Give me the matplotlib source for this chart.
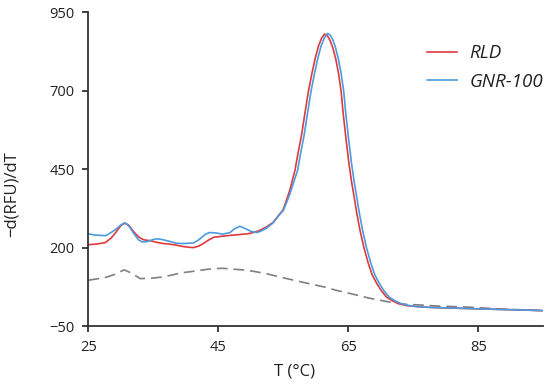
import matplotlib
matplotlib.use("Agg")
import matplotlib.pyplot as plt

plt.rcParams['font.family'] = ['Open Sans', 'DejaVu Sans']

# RLD (red)
rld_t = [25.0, 26.5, 27.6, 28.5, 29.2, 30.0, 30.6, 31.2, 32.0, 32.8, 33.5, 34.5, 35.5, 36.5,
         37.5, 38.5, 39.4, 40.5, 41.2, 42.0, 42.7, 43.5, 44.3, 45.5, 46.8, 48.0, 49.5, 50.4,
         51.3, 52.4, 53.4, 54.5, 55.0, 56.0, 56.8, 57.3, 57.8, 58.3, 58.85, 59.4, 59.9, 60.4,
         60.9, 61.35, 61.8, 62.2, 62.6, 63.05, 63.5, 63.9, 64.2, 64.6, 65.1, 65.5, 65.9, 66.3,
         66.8, 67.4, 68.1, 68.7, 69.4, 70.1, 70.9, 71.8, 72.8, 74.0, 76.0, 78.0, 83.0, 88.0,
         92.0, 95.0]
rld_v = [209, 212, 216, 230, 248, 270, 278, 272, 250, 233, 225, 222, 217, 213,
         211, 208, 204, 201, 200, 205, 213, 224, 233, 236, 239, 241, 244, 248,
         254, 266, 280, 308, 322, 383, 447, 505, 558, 625, 697, 755, 803, 842,
         868, 881, 875, 860, 838, 803, 755, 697, 630, 555, 468, 410, 361, 310,
         255, 200, 148, 112, 85, 62, 42, 30, 21, 15, 11, 9, 6, 3,
         1, -1]

# GNR-100 (blue)
gnr_t = [25.0, 26.0, 27.0, 27.7, 28.5, 29.2, 30.0, 30.6, 31.2, 32.0, 32.7, 33.3, 34.0, 35.0,
         35.6, 36.3, 37.5, 38.5, 39.4, 40.5, 41.2, 42.0, 43.0, 43.6, 44.5, 45.7, 46.8, 47.5,
         48.3, 49.0, 50.0, 50.9, 51.5, 52.4, 53.4, 54.5, 55.0, 56.0, 57.2, 57.7, 58.2, 58.7,
         59.25, 59.8, 60.3, 60.8, 61.3, 61.8, 62.2, 62.6, 63.0, 63.45, 63.9, 64.3, 64.6, 65.0,
         65.5, 65.9, 66.3, 66.7, 67.2, 67.8, 68.5, 69.1, 69.8, 70.5, 71.3, 72.2, 73.2, 74.4,
         76.0, 78.0, 83.0, 88.0, 92.0, 95.0]
gnr_v = [244, 240, 239, 238, 248, 258, 272, 279, 270, 245, 225, 218, 219, 226,
         228, 226, 220, 214, 213, 214, 215, 225, 242, 248, 247, 243, 248, 260,
         268, 262, 252, 248, 252, 262, 278, 308, 318, 370, 447, 505, 558, 625,
         697, 755, 803, 842, 868, 883, 878, 863, 840, 803, 755, 697, 630, 555,
         468, 410, 361, 310, 255, 200, 148, 112, 85, 62, 42, 30, 21, 15,
         11, 9, 6, 3, 1, -1]

# Baseline (grey dashed)
base_t = [25.0, 27.5, 29.0, 30.5, 31.5, 33.0, 35.0, 36.3, 38.0, 39.1, 41.0, 43.0, 44.3, 45.7,
          47.5, 49.3, 50.5, 52.4, 54.5, 57.9, 61.4, 63.1, 65.0, 68.2, 71.4, 73.3, 76.0, 78.5,
          83.6, 88.7, 95.0]
base_v = [96, 104, 114, 129, 120, 101, 103, 106, 113, 119, 124, 130, 133, 134,
          131, 128, 124, 117, 106, 90, 74, 64, 55, 39, 26, 20, 17, 14,
          10, 4, -1]

xticks = [25, 45, 65, 85]
yticks = [-50, 200, 450, 700, 950]

fig = plt.figure(figsize=(5.5, 3.86), dpi=100)
ax = fig.add_axes([0.1606, 0.1554, 0.8272, 0.8126])

ax.plot(base_t, base_v, color='#808080', lw=1.2, dashes=(6.5, 3.5))
ax.plot(rld_t, rld_v, color='#E0393E', lw=1.2, label='RLD')
ax.plot(gnr_t, gnr_v, color='#4A9BE0', lw=1.2, label='GNR-100')

ax.set_xlim(25, 95)
ax.set_ylim(-50, 950)
ax.set_xticks(xticks)
ax.set_yticks(yticks)
for s in ['top', 'right']:
    ax.spines[s].set_visible(False)
for s in ['left', 'bottom']:
    ax.spines[s].set_color('#333333')
    ax.spines[s].set_linewidth(1.3)
ax.tick_params(direction='out', length=4, width=1.3, color='#333333',
               labelsize=10.5, labelcolor='#222222', pad=6)

ax.set_xlabel('T (°C)', fontsize=12, color='#222222')
ax.xaxis.set_label_coords(0.454, -0.12)
ax.set_ylabel('−d(RFU)/dT', fontsize=12, color='#222222')
ax.yaxis.set_label_coords(-0.15, 0.42)

leg = ax.legend(loc='upper left', bbox_to_anchor=(0.744, 0.898), frameon=False,
                prop={'style': 'italic', 'size': 13.5}, handlelength=1.62,
                handletextpad=0.65, borderpad=0, borderaxespad=0, labelspacing=0.55)
for t in leg.get_texts():
    t.set_color('#222222')

fig.savefig('out.png', dpi=100)
